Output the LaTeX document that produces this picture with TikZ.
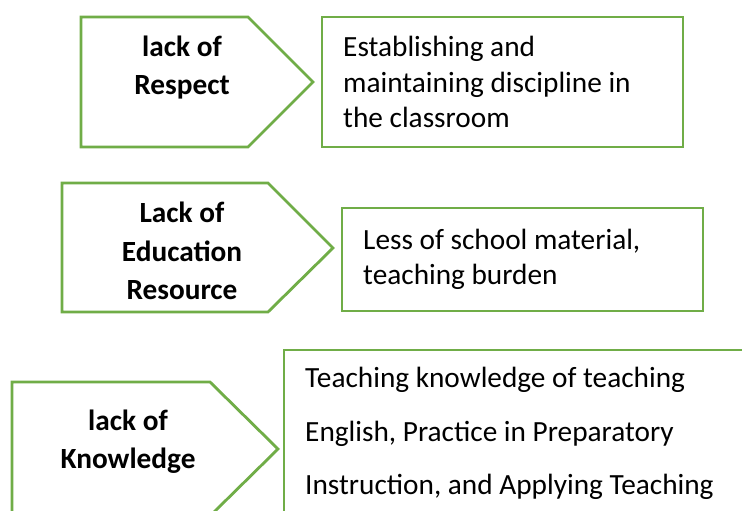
\documentclass[tikz,border=0pt]{standalone}
\usepackage{fontspec}
\setmainfont{Carlito}
\usepackage{tikz}
\usetikzlibrary{positioning}

\definecolor{leafgreen}{HTML}{70AD47}

\begin{document}
\begin{tikzpicture}[x=0.03cm, y=-0.03cm,
            outline/.style={draw=leafgreen, line width=2.4pt, fill=white, line join=miter},
            cause/.style={inner sep=0pt, anchor=base, align=center,
                font=\fontsize{25}{33}\selectfont\bfseries},
            effect/.style={inner sep=0pt, anchor=base west, align=left,
                font=\fontsize{25}{30.7}\selectfont}
        ]
          \useasboundingbox (0,0) rectangle (742,511);
          \clip (0,0) rectangle (742,511);
          % arrow shaped boxes on the left
          \draw[outline] (81,17) -- (248,17) -- (313,82) -- (248,147) -- (81,147) -- cycle;
          \draw[outline] (62,183) -- (268,183) -- (333,248) -- (268,312) -- (62,312) -- cycle;
          \draw[outline] (12,382) -- (210,382) -- (278,449) -- (210,516) -- (12,516) -- cycle;
          % plain boxes on the right
          \draw[outline] (322,17) rectangle (683,147);
          \draw[outline] (342,208) rectangle (703,311);
          \draw[outline] (284,350) rectangle (770,560);

          % nodes sit on the baseline of their last line
          \node[cause] (respect) at (182,95) {lack of\\Respect};
          \node[cause] (resource) at (182,300) {Lack of\\Education\\Resource};
          \node[cause] (knowledge) at (128,469) {lack of\\Knowledge};

          \node[effect] (discipline) at (343,128)
                {Establishing and\\maintaining discipline in\\the classroom};
          \node[effect] (material) at (363,285)
                {Less of school material,\\teaching burden};
          \node[effect, font=\fontsize{25}{45.8}\selectfont] (teaching) at (305,495)
                {Teaching knowledge of teaching\\English, Practice in Preparatory\\Instruction, and Applying Teaching};
        \end{tikzpicture}
\end{document}
